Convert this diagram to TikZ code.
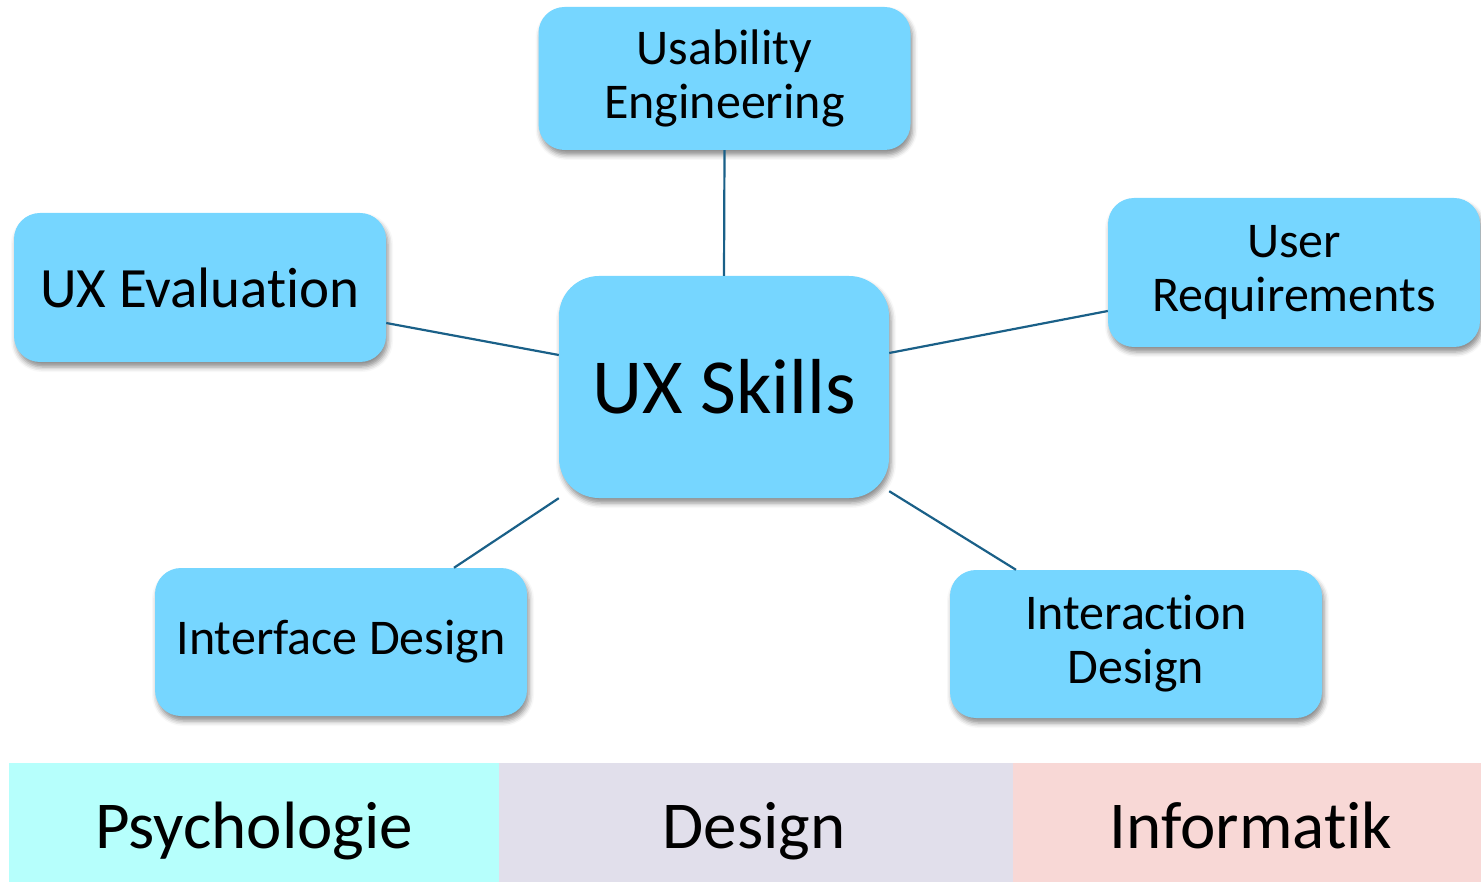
\documentclass[tikz,border=0pt]{standalone}
\usepackage{fontspec}
\setmainfont{Carlito}[RawFeature={-liga;-clig;-dlig}]
\usetikzlibrary{shadows.blur}
\definecolor{boxfill}{HTML}{76D6FF}
\definecolor{linkcol}{HTML}{1A6088}
\definecolor{psyfill}{HTML}{B6FFFC}
\definecolor{desfill}{HTML}{E1DFEB}
\definecolor{inffill}{HTML}{F8D8D6}
\tikzset{
  skillbox/.style={draw=none, fill=boxfill, rounded corners=26pt, align=center,
    inner sep=0pt, minimum width=372pt, minimum height=148pt,
    font=\fontsize{50}{54}\selectfont,
    blur shadow={shadow xshift=2pt, shadow yshift=-5pt, shadow blur radius=5pt, shadow opacity=45}},
  link/.style={draw=linkcol, line width=2.2pt},
  band/.style={draw=none, inner sep=0pt, minimum height=119pt, anchor=north west},
  bandtext/.style={anchor=base, inner sep=0pt, font=\fontsize{67}{70}\selectfont}
}
\begin{document}
\begin{tikzpicture}[x=1pt,y=-1pt]
\useasboundingbox (0,0) rectangle (1481,882);
% bands
\node[band, fill=psyfill, minimum width=490pt] (psy) at (9,763) {};
\node[bandtext] (psyt) at (254,848) {Psychologie};
\node[band, fill=desfill, minimum width=514pt] (des) at (499,763) {};
\node[bandtext] (dest) at (754,848) {Design};
\node[band, fill=inffill, minimum width=468pt] (inf) at (1013,763) {};
\node[bandtext] (inft) at (1251,848) {Informatik};
% boxes
\node[skillbox, minimum height=143pt] (ue) at (724.5,78.5) {Usability\\Engineering};
\node[skillbox, minimum width=330pt, minimum height=222pt, rounded corners=40pt,
      font=\fontsize{78}{80}\selectfont] (sk) at (724,387) {UX Skills};
\node[skillbox, minimum height=149pt] (ur) at (1294,272.5) {User\\Requirements};
\node[skillbox, minimum height=149pt, font=\fontsize{57}{60}\selectfont] (ev) at (200,287.5) {UX Evaluation};
\node[skillbox] (id) at (341,642) {Interface Design};
\node[skillbox] (ixd) at (1136,644) {Interaction\\Design};
% links
\draw[link] (ue.south) -- (sk.north);
\draw[link] ([yshift=-35.5pt]ev.east) -- ([yshift=32pt]sk.west);
\draw[link] ([yshift=-38.5pt]ur.west) -- ([yshift=34pt]sk.east);
\draw[link] ([xshift=113pt]id.north) -- (sk.south west);
\draw[link] ([xshift=-120pt]ixd.north) -- ([yshift=7pt]sk.south east);
\end{tikzpicture}
\end{document}
